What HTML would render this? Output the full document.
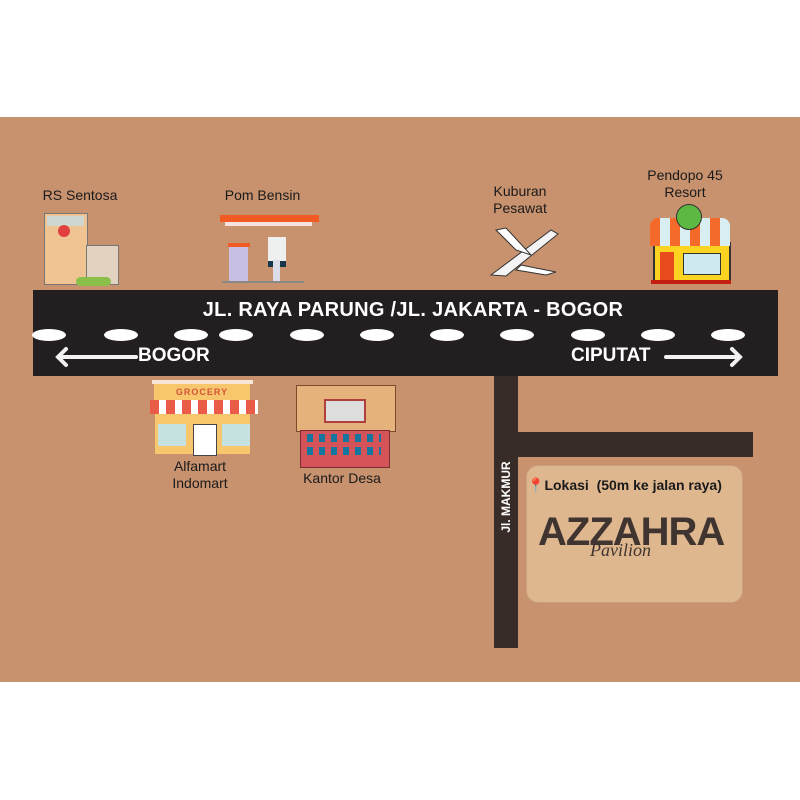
<!DOCTYPE html>
<html><head><meta charset="utf-8"><style>
body{margin:0;width:800px;height:800px;background:#fff;position:relative;overflow:hidden;font-family:"Liberation Sans","DejaVu Sans",sans-serif}
.a{position:absolute}
.lbl{position:absolute;color:#1a1a1a;font-size:14px;text-align:center;line-height:17px}
.w{color:#fff;font-weight:bold;position:absolute}
.d{position:absolute;width:34px;height:12px;background:#fff;border-radius:50%;top:329px}
</style></head><body>
<div class="a" style="left:0;top:117px;width:800px;height:565px;background:#c8926f"></div>

<!-- main road -->
<div class="a" style="left:33px;top:290px;width:745px;height:86px;background:#231f20"></div>
<div class="w" style="left:33px;width:760px;top:299px;text-align:center;font-size:20px;letter-spacing:0.3px">JL. RAYA PARUNG /JL. JAKARTA - BOGOR</div>
<div class="d" style="left:32px"></div><div class="d" style="left:104px"></div><div class="d" style="left:174px"></div><div class="d" style="left:219px"></div><div class="d" style="left:290px"></div><div class="d" style="left:360px"></div><div class="d" style="left:430px"></div><div class="d" style="left:500px"></div><div class="d" style="left:571px"></div><div class="d" style="left:641px"></div><div class="d" style="left:711px"></div>
<div class="w" style="left:138px;top:345px;font-size:19px">BOGOR</div>
<div class="w" style="left:571px;top:345px;font-size:19px">CIPUTAT</div>
<svg class="a" style="left:50px;top:345px" width="700" height="25"><g stroke="#f2f2f2" stroke-width="4" fill="none" stroke-linecap="round"><path d="M8 12H86M16 4L8 12L16 20"/><path d="M616 12H690M682 4L690 12L682 20"/></g></svg>

<!-- side roads -->
<div class="a" style="left:494px;top:376px;width:24px;height:272px;background:#382c28"></div>
<div class="a" style="left:518px;top:432px;width:235px;height:25px;background:#382c28"></div>
<div class="w" style="left:460px;top:485px;width:90px;font-size:12px;transform:rotate(-90deg);transform-origin:center;text-align:center;top:490px;left:461px">Jl. MAKMUR</div>

<!-- box -->
<div class="a" style="left:526px;top:465px;width:215px;height:136px;background:#dfb78f;border-radius:12px;border:1px solid #c9a07c"></div>
<div class="a" style="left:527px;top:477px;font-size:14px;font-weight:bold;color:#1a1a1a"><span style="color:#d52020">📍</span>Lokasi&nbsp; (50m ke jalan raya)</div>
<div class="a" style="left:538px;top:510px;font-size:40px;font-weight:bold;color:#3f3430;letter-spacing:-1px">AZZAHRA</div>
<div class="a" style="left:590px;top:540px;font-size:18px;font-style:italic;color:#3f3430;font-family:'Liberation Serif',serif">Pavilion</div>

<!-- labels -->
<div class="lbl" style="left:20px;width:120px;top:187px">RS Sentosa</div>
<div class="lbl" style="left:200px;width:125px;top:187px">Pom Bensin</div>
<div class="lbl" style="left:470px;width:100px;top:183px">Kuburan<br>Pesawat</div>
<div class="lbl" style="left:630px;width:110px;top:167px">Pendopo 45<br>Resort</div>
<div class="lbl" style="left:150px;width:100px;top:458px">Alfamart<br>Indomart</div>
<div class="lbl" style="left:282px;width:120px;top:470px">Kantor Desa</div>

<!-- hospital -->
<div class="a" style="left:44px;top:213px;width:42px;height:70px;background:#f0c392;border:1px solid #777"></div>
<div class="a" style="left:47px;top:216px;width:37px;height:10px;background:#cfd8d0"></div>
<div class="a" style="left:58px;top:225px;width:12px;height:12px;background:#e04040;border-radius:50%"></div>
<div class="a" style="left:86px;top:245px;width:31px;height:38px;background:#e2d3c0;border:1px solid #777"></div>
<div class="a" style="left:76px;top:277px;width:35px;height:9px;background:#8abf4a;border-radius:5px"></div>
<!-- gas -->
<div class="a" style="left:220px;top:215px;width:99px;height:7px;background:#f25a24"></div>
<div class="a" style="left:225px;top:222px;width:87px;height:4px;background:#f6e3e0"></div>
<div class="a" style="left:229px;top:244px;width:19px;height:37px;background:#c9bfe2"></div>
<div class="a" style="left:228px;top:243px;width:22px;height:4px;background:#f25a24"></div>
<div class="a" style="left:268px;top:237px;width:18px;height:24px;background:#eef0f0;border-bottom:6px solid #17364a"></div>
<div class="a" style="left:273px;top:260px;width:7px;height:22px;background:#dcdde8"></div>
<div class="a" style="left:222px;top:281px;width:82px;height:2px;background:#888"></div>
<!-- plane -->
<svg class="a" style="left:486px;top:220px" width="75" height="60"><path d="M5 55L65 10L72 14L20 56Z" fill="#f4f4f4" stroke="#333"/><path d="M30 30L10 10L20 8L45 35Z" fill="#fff" stroke="#333"/><path d="M35 45L70 52L60 55L30 50Z" fill="#fff" stroke="#333"/></svg>
<!-- resort -->
<div class="a" style="left:653px;top:242px;width:74px;height:38px;background:#fbd320;border:2px solid #333"></div>
<div class="a" style="left:650px;top:218px;width:80px;height:28px;background:repeating-linear-gradient(90deg,#f36a2a 0 10px,#d8eef0 10px 20px);border-radius:8px 8px 0 0"></div>
<div class="a" style="left:676px;top:204px;width:24px;height:24px;background:#5cb842;border-radius:50%;border:1px solid #333"></div>
<div class="a" style="left:660px;top:252px;width:14px;height:28px;background:#e84b1c"></div>
<div class="a" style="left:683px;top:253px;width:36px;height:20px;background:#cfe9f0;border:1px solid #333"></div>
<div class="a" style="left:651px;top:280px;width:80px;height:4px;background:#c41e10"></div>
<!-- grocery -->
<div class="a" style="left:152px;top:380px;width:101px;height:4px;background:#f8e6d6"></div>
<div class="a" style="left:154px;top:384px;width:96px;height:16px;background:#f8c66c;color:#d3553a;font-size:9px;font-weight:bold;text-align:center;line-height:16px;letter-spacing:1px">GROCERY</div>
<div class="a" style="left:150px;top:400px;width:108px;height:14px;background:repeating-linear-gradient(90deg,#ea5b48 0 9px,#fff 9px 16px)"></div>
<div class="a" style="left:155px;top:414px;width:95px;height:40px;background:#f8c66c"></div>
<div class="a" style="left:158px;top:424px;width:28px;height:22px;background:#c6e2e0"></div>
<div class="a" style="left:222px;top:424px;width:28px;height:22px;background:#c6e2e0"></div>
<div class="a" style="left:193px;top:424px;width:22px;height:30px;background:#fff;border:1px solid #444"></div>
<!-- kantor -->
<div class="a" style="left:296px;top:385px;width:98px;height:45px;background:#e4b27a;border:1px solid #7a4a2a"></div>
<div class="a" style="left:324px;top:399px;width:38px;height:20px;background:#ddd;border:2px solid #b04040"></div>
<div class="a" style="left:300px;top:430px;width:88px;height:36px;background:#d4545a;border:1px solid #7a3030"></div>
<div class="a" style="left:307px;top:434px;width:74px;height:8px;background:repeating-linear-gradient(90deg,#1577a0 0 6px,transparent 6px 12px)"></div>
<div class="a" style="left:307px;top:447px;width:74px;height:8px;background:repeating-linear-gradient(90deg,#1577a0 0 6px,transparent 6px 12px)"></div>
</body></html>
